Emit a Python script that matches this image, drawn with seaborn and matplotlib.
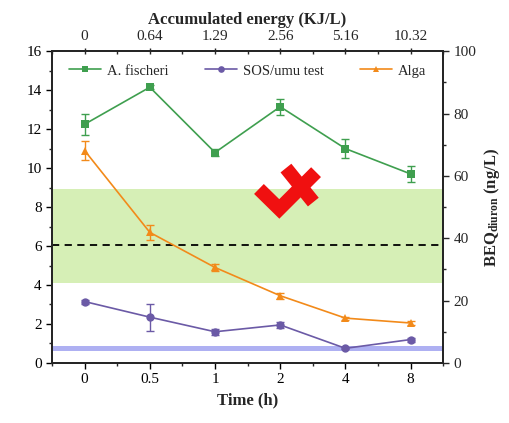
import numpy as np
import pandas as pd
import matplotlib
matplotlib.use("Agg")
import matplotlib.pyplot as plt
import seaborn as sns
from matplotlib.ticker import MultipleLocator

time_labels = ["0", "0.5", "1", "2", "4", "8"]
energy_labels = ["0", "0.64", "1.29", "2.56", "5.16", "10.32"]

fischeri = [12.25, 14.15, 10.8, 13.15, 11.0, 9.7]
fischeri_err = [0.55, 0.1, 0.2, 0.4, 0.5, 0.4]
sos = [3.15, 2.35, 1.6, 1.95, 0.75, 1.2]
sos_err = [0.1, 0.7, 0.15, 0.15, 0.05, 0.1]
alga = [10.9, 6.7, 4.9, 3.45, 2.3, 2.05]
alga_err = [0.5, 0.4, 0.2, 0.15, 0.08, 0.08]

green_band = (4.1, 8.95)
dash_level = 6.05
blue_band = (0.6, 0.85)

sns.set_theme(style="ticks")
plt.rcParams['font.family'] = ['Liberation Serif', 'DejaVu Sans']
plt.rcParams['mathtext.fontset'] = 'custom'
plt.rcParams['mathtext.rm'] = 'Liberation Serif'
plt.rcParams['mathtext.bf'] = 'Liberation Serif:bold'

fig = plt.figure(figsize=(5.1, 4.23), dpi=100)
ax = fig.add_axes([0.102, 0.142, 0.767, 0.737])

x = np.arange(len(time_labels))
df = pd.DataFrame({
    "x": np.tile(x, 3),
    "y": fischeri + sos + alga,
    "err": fischeri_err + sos_err + alga_err,
    "series": ["A. fischeri"] * 6 + ["SOS/umu test"] * 6 + ["Alga"] * 6,
})
palette = {"A. fischeri": "#3f9f4f", "SOS/umu test": "#6b5aa6", "Alga": "#f28a1a"}
markers = {"A. fischeri": "s", "SOS/umu test": "o", "Alga": "^"}

ax.axhspan(*green_band, color="#d6efb6", zorder=0, lw=0)
ax.axhspan(*blue_band, color="#aeb0f2", zorder=0, lw=0)
ax.axhline(dash_level, color="black", ls=(0, (4, 3)), lw=1.3, zorder=1)

sns.lineplot(data=df, x="x", y="y", hue="series", style="series",
             palette=palette, markers=markers, dashes=False, markersize=6,
             markeredgewidth=0, lw=1.2, ax=ax, legend=True, zorder=3)
for name, g in df.groupby("series"):
    ax.errorbar(g["x"], g["y"], yerr=g["err"], fmt="none", ecolor=palette[name],
                elinewidth=1, capsize=3, capthick=1, zorder=2)

# red cross decoration (axes-fraction coordinates)
ax.plot([0.529, 0.581, 0.675], [0.558, 0.494, 0.612], transform=ax.transAxes,
        color="#f01010", lw=10, solid_capstyle="butt", solid_joinstyle="miter", zorder=4)
ax.plot([0.598, 0.668], [0.625, 0.516], transform=ax.transAxes,
        color="#f01010", lw=10, solid_capstyle="butt", zorder=4)

ax.set_xlim(-0.5, 5.5)
ax.set_ylim(0, 16)
ax.set_xticks(x)
ax.set_xticklabels(time_labels)
ax.xaxis.set_minor_locator(MultipleLocator(0.5))
ax.yaxis.set_major_locator(MultipleLocator(2))
ax.yaxis.set_minor_locator(MultipleLocator(1))
ax.set_xlabel("Time (h)", fontsize=12, fontweight="bold")
ax.set_ylabel("")
ax.tick_params(axis="both", which="major", direction="out", length=4, width=1,
               labelsize=11, colors="black")
ax.tick_params(axis="both", which="minor", direction="out", length=2, width=1)
for s in ax.spines.values():
    s.set_linewidth(1.2)
    s.set_color("black")
    s.set_visible(True)

axr = ax.twinx()
axr.set_ylim(0, 100)
axr.yaxis.set_major_locator(MultipleLocator(20))
axr.yaxis.set_minor_locator(MultipleLocator(10))
axr.set_ylabel(r"$\mathbf{BEQ_{diuron}}$ (ng/L)", fontsize=12, fontweight="bold")
axr.tick_params(axis="y", which="major", direction="out", length=4, width=1, labelsize=11)
axr.tick_params(axis="y", which="minor", direction="out", length=2, width=1)

axt = ax.twiny()
axt.set_xlim(ax.get_xlim())
axt.set_xticks(x)
axt.set_xticklabels(energy_labels)
axt.xaxis.set_minor_locator(MultipleLocator(0.5))
axt.set_xlabel("Accumulated energy (KJ/L)", fontsize=12, fontweight="bold", labelpad=4)
axt.tick_params(axis="x", which="major", direction="inout", length=5, width=1, labelsize=11)
axt.tick_params(axis="x", which="minor", direction="in", length=2, width=1)

leg = ax.legend(loc="upper center", ncol=3, frameon=False, fontsize=10.5,
                bbox_to_anchor=(0.5, 1.0), handlelength=2.2, columnspacing=2.5,
                handletextpad=0.4, markerscale=0.8)

fig.savefig("out.png", dpi=100)
